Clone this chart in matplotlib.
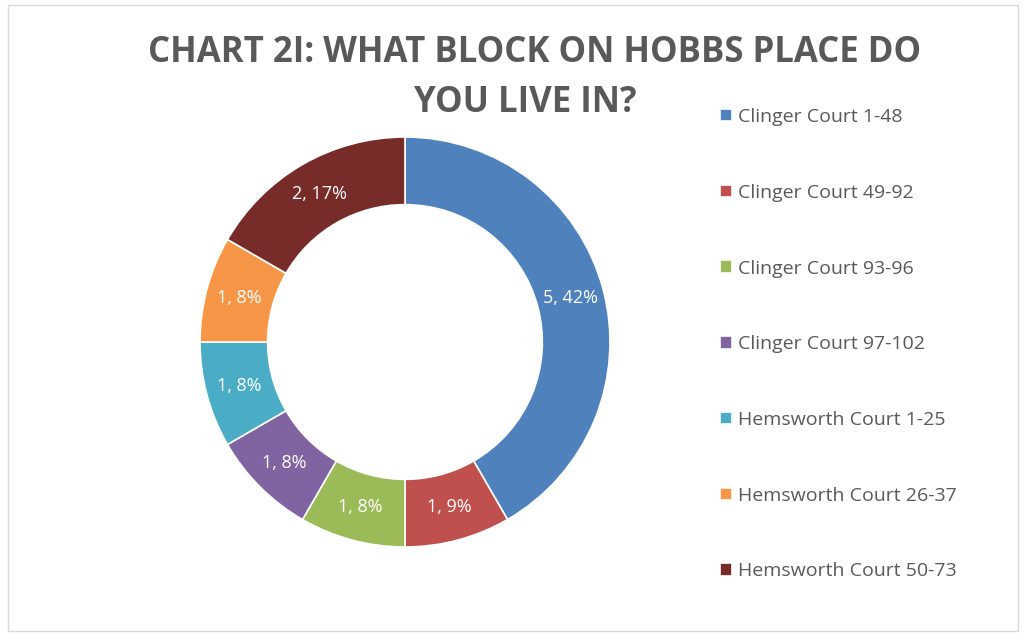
"""
plot.py
Donut chart: which block on Hobbs Place do you live in?
"""
import matplotlib
matplotlib.use("Agg")
import matplotlib.pyplot as plt
from matplotlib.patches import Rectangle
import numpy as np

blocks = ["Clinger Court 1-48", "Clinger Court 49-92", "Clinger Court 93-96",
          "Clinger Court 97-102", "Hemsworth Court 1-25", "Hemsworth Court 26-37",
          "Hemsworth Court 50-73"]
counts = [5, 1, 1, 1, 1, 1, 2]
label_text = ["5, 42%", "1, 9%", "1, 8%", "1, 8%", "1, 8%", "1, 8%", "2, 17%"]
colors = ["#4F81BD", "#C0504D", "#9BBB59", "#8064A2", "#4BACC6", "#F79646", "#772C2A"]
title_lines = ["CHART 2I: WHAT BLOCK ON HOBBS PLACE DO", "YOU LIVE IN?"]

plt.rcParams['font.family'] = ['Open Sans', 'DejaVu Sans']
text_gray = "#595959"

fig = plt.figure(figsize=(10.26, 6.34), dpi=100)
fig.patches.append(Rectangle((8 / 1026, 0.005), 1 - 16 / 1026, 1 - 0.005 - 5 / 634,
                             transform=fig.transFigure, fill=False,
                             edgecolor="#D9D9D9", linewidth=1))

ax = fig.add_axes([200 / 1026, 87 / 634, 410 / 1026, 410 / 634])
ring = 0.33
wedges, _ = ax.pie(counts, colors=colors, startangle=90, counterclock=False,
                   radius=1.0,
                   wedgeprops=dict(width=ring, edgecolor="white", linewidth=1.2))
ax.set_xlim(-1, 1)
ax.set_ylim(-1, 1)

# data labels at the middle of each ring segment
r_mid = 1.0 - ring / 2
for w, txt in zip(wedges, label_text):
    ang = np.deg2rad((w.theta1 + w.theta2) / 2)
    ax.text(r_mid * np.cos(ang), r_mid * np.sin(ang), txt, ha="center", va="center",
            color="white", fontsize=13)

# two-line title, each line placed on its own
fig.text(535 / 1026, 1 - 53 / 634, title_lines[0], ha="center", va="center",
         fontsize=25, fontweight="bold", color=text_gray)
fig.text(525 / 1026, 1 - 103 / 634, title_lines[1], ha="center", va="center",
         fontsize=25, fontweight="bold", color=text_gray)

leg = ax.legend(wedges, blocks, loc="upper left",
                bbox_to_anchor=(720 / 1026, 1 - 108 / 634), bbox_transform=fig.transFigure,
                frameon=False, fontsize=14, labelcolor=text_gray,
                handlelength=0.6, handleheight=0.6, handletextpad=0.3,
                labelspacing=2.97, borderpad=0, borderaxespad=0)

plt.savefig("out.png", dpi=100)
